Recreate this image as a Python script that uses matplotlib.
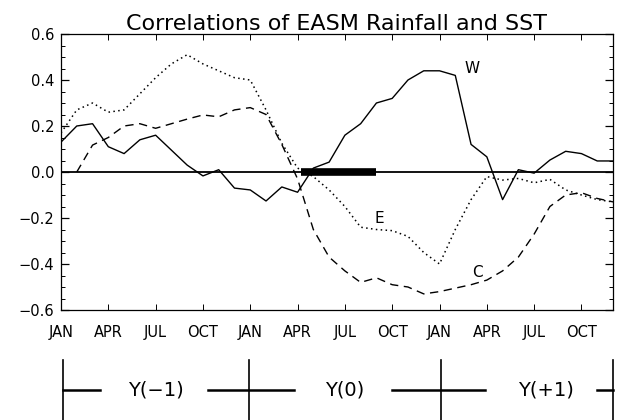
import numpy as np
import matplotlib
matplotlib.use("Agg")
import matplotlib.pyplot as plt
from matplotlib.ticker import MultipleLocator

# Month index: 0 = JAN Y(-1) ... 35 = DEC Y(+1)
months = np.arange(36)
tick_pos = [0, 3, 6, 9, 12, 15, 18, 21, 24, 27, 30, 33]
tick_labels = ["JAN", "APR", "JUL", "OCT"] * 3

W = [0.13, 0.20, 0.21, 0.11, 0.08, 0.14, 0.16, 0.095, 0.03, -0.017, 0.01, -0.07,
     -0.078, -0.126, -0.065, -0.088, 0.017, 0.043, 0.16, 0.21, 0.30, 0.32, 0.40, 0.44,
     0.44, 0.42, 0.12, 0.066, -0.12, 0.01, -0.005, 0.052, 0.09, 0.08, 0.048, 0.048]
E = [0.17, 0.27, 0.30, 0.26, 0.27, 0.34, 0.41, 0.47, 0.51, 0.47, 0.44, 0.41,
     0.40, 0.27, 0.125, 0.017, -0.02, -0.078, -0.15, -0.24, -0.25, -0.255, -0.28, -0.35,
     -0.40, -0.25, -0.12, -0.02, -0.035, -0.028, -0.047, -0.032, -0.078, -0.10, -0.12, -0.13]
C = [np.nan, 0.0, 0.117, 0.15, 0.20, 0.21, 0.19, 0.21, 0.23, 0.248, 0.24, 0.27,
     0.28, 0.25, 0.12, -0.03, -0.25, -0.37, -0.43, -0.48, -0.46, -0.49, -0.50, -0.53,
     -0.52, -0.505, -0.49, -0.47, -0.43, -0.37, -0.27, -0.15, -0.10, -0.09, -0.115, -0.13]

bar_span = [15.2, 20.0]  # monsoon period bar
title = "Correlations of EASM Rainfall and SST"
year_labels = ["Y(\u22121)", "Y(0)", "Y(+1)"]

fig = plt.figure(figsize=(6.18, 4.2), dpi=100)
ax = fig.add_axes([61/618, 1 - 310/420, 552/618, 276/420])

ax.plot(months, W, color="black", lw=1.0)
ax.plot(months, E, color="black", lw=1.1, linestyle=(0, (1, 2.2)))
ax.plot(months, C, color="black", lw=1.0, linestyle=(0, (6, 4)))
ax.axhline(0, color="black", lw=1.3)
ax.plot(bar_span, [0, 0], color="black", lw=5.5, solid_capstyle="butt")

ax.text(25.6, 0.45, "W", fontsize=11, ha="left", va="center")
ax.text(20.2, -0.2, "E", fontsize=11, ha="center", va="center")
ax.text(26.4, -0.435, "C", fontsize=11, ha="center", va="center")

ax.set_xlim(0, 35)
ax.set_ylim(-0.6, 0.6)
ax.set_xticks(tick_pos)
ax.set_xticklabels(tick_labels)
ax.set_yticks(np.arange(-0.6, 0.61, 0.2))
ax.set_yticklabels([f"{v:.1f}".replace("-", "\u2212") for v in np.arange(-0.6, 0.61, 0.2)])
ax.yaxis.set_minor_locator(MultipleLocator(0.05))
ax.tick_params(which="both", direction="in", top=True, right=True, labelsize=10.5)
ax.tick_params(axis="y", which="major", length=6, width=0.9, pad=5)
ax.tick_params(axis="y", which="minor", length=3, width=0.7)
ax.tick_params(axis="x", which="major", length=4, width=0.7, pad=11)
for s in ax.spines.values():
    s.set_linewidth(0.9)
ax.set_title(title, fontsize=16, pad=3)

# Year bracket panel
ax2 = fig.add_axes([61/618, 0, 552/618, 60/420])
ax2.set_xlim(0, 35)
ax2.set_ylim(0, 1)
ax2.axis("off")
for xv in [0.1, 11.9, 24.1, 35]:
    ax2.plot([xv, xv], [0, 1], color="black", lw=1.2, clip_on=False)
for seg in [(0.1, 2.5), (9.3, 14.8), (21.0, 26.9), (34.0, 35)]:
    ax2.plot(seg, [0.5, 0.5], color="black", lw=1.8, clip_on=False)
for xc, lab in zip([6.0, 18.0, 30.75], year_labels):
    ax2.text(xc, 0.5, lab, fontsize=14, ha="center", va="center")

fig.savefig("out.png", dpi=100)
